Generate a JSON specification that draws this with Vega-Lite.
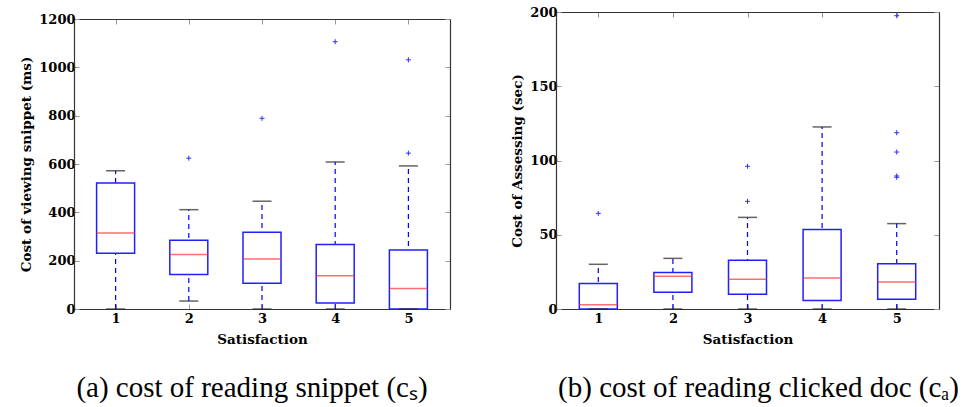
{
 "$schema": "https://vega.github.io/schema/vega-lite/v6.json",
 "padding": {"left": 19, "top": 6, "right": 0, "bottom": 0},
 "background": "white",
 "spacing": 59,
 "config": {
  "view": {"stroke": null},
  "font": "Liberation Serif",
  "axis": {"grid": false, "domain": true, "domainColor": "#333", "domainWidth": 1.2, "labelFont": "DejaVu Serif", "labelFontWeight": "bold", "labelFontSize": 13, "labelColor": "#000", "titleFont": "DejaVu Serif", "titleFontWeight": "bold", "titleFontSize": 13.5, "titleColor": "#000", "tickColor": "#999", "tickSize": -5, "labelPadding": 4, "titlePadding": 5},
  "axisX": {"labelPadding": 8, "titlePadding": 7},
  "title": {"font": "Liberation Serif", "fontSize": 29, "fontWeight": "normal", "color": "#000"}
 },
 "datasets": {
  "boxA": [
   {"s": 1, "lo": 0, "q1": 231, "med": 315, "q3": 521, "hi": 572},
   {"s": 2, "lo": 33, "q1": 143, "med": 226, "q3": 285, "hi": 411},
   {"s": 3, "lo": 0, "q1": 107, "med": 207, "q3": 318, "hi": 446},
   {"s": 4, "lo": 0, "q1": 25, "med": 138, "q3": 267, "hi": 608},
   {"s": 5, "lo": 0, "q1": 0, "med": 85, "q3": 244, "hi": 592}
  ],
  "outA": [
   {"s": 2, "v": 624},
   {"s": 3, "v": 789},
   {"s": 4, "v": 1106},
   {"s": 5, "v": 645},
   {"s": 5, "v": 1031}
  ],
  "boxB": [
   {"s": 1, "lo": 0, "q1": 0, "med": 2.9, "q3": 17.1, "hi": 30.1},
   {"s": 2, "lo": 0, "q1": 11.2, "med": 22, "q3": 24.5, "hi": 34.1},
   {"s": 3, "lo": 0, "q1": 9.9, "med": 20, "q3": 32.8, "hi": 61.7},
   {"s": 4, "lo": 0, "q1": 5.8, "med": 20.9, "q3": 53.6, "hi": 122.6},
   {"s": 5, "lo": 0, "q1": 6.5, "med": 18.2, "q3": 30.5, "hi": 57.5}
  ],
  "outB": [
   {"s": 1, "v": 64.4},
   {"s": 3, "v": 72.5},
   {"s": 3, "v": 96.1},
   {"s": 5, "v": 88.7},
   {"s": 5, "v": 89.6},
   {"s": 5, "v": 105.7},
   {"s": 5, "v": 118.7},
   {"s": 5, "v": 197.5}
  ]
 },
 "hconcat": [
  {
   "width": 376, "height": 297,
   "title": {"text": "(a) cost of reading snippet (cₛ)", "orient": "bottom", "offset": 28, "dx": -10, "font": "Liberation Serif", "fontSize": 29, "fontWeight": "normal"},
   "resolve": {"axis": {"x": "independent", "y": "independent"}},
   "layer": [
    {"data": {"name": "boxA"}, "mark": {"type": "rule", "color": "#0000ff", "strokeDash": [5, 4], "strokeWidth": 1.2},
     "encoding": {
      "x": {"field": "s", "type": "quantitative", "scale": {"domain": [0.5, 5.5]}, "axis": {"orient": "bottom", "values": [1, 2, 3, 4, 5], "format": "d", "title": "Satisfaction"}},
      "y": {"field": "lo", "type": "quantitative", "scale": {"domain": [0, 1200], "range": [297, 7]}, "axis": {"orient": "left", "values": [0, 200, 400, 600, 800, 1000, 1200], "format": "d", "title": "Cost of viewing snippet (ms)"}}, "y2": {"field": "hi"}}},
    {"data": {"name": "boxA"}, "mark": {"type": "bar", "fill": "white", "stroke": "#2020ff", "strokeWidth": 1.5, "size": 38},
     "encoding": {"x": {"field": "s", "type": "quantitative", "scale": {"domain": [0.5, 5.5]}, "axis": null}, "y": {"field": "q1", "type": "quantitative", "scale": {"domain": [0, 1200], "range": [297, 7]}, "axis": null}, "y2": {"field": "q3"}}},
    {"data": {"name": "boxA"}, "mark": {"type": "tick", "orient": "horizontal", "color": "#ff3030", "size": 38, "thickness": 1.5},
     "encoding": {"x": {"field": "s", "type": "quantitative", "scale": {"domain": [0.5, 5.5]}, "axis": null}, "y": {"field": "med", "type": "quantitative", "scale": {"domain": [0, 1200], "range": [297, 7]}, "axis": null}}},
    {"data": {"name": "boxA"}, "mark": {"type": "tick", "orient": "horizontal", "color": "#222", "size": 19, "thickness": 1.5},
     "encoding": {"x": {"field": "s", "type": "quantitative", "scale": {"domain": [0.5, 5.5]}, "axis": null}, "y": {"field": "hi", "type": "quantitative", "scale": {"domain": [0, 1200], "range": [297, 7]}, "axis": null}}},
    {"data": {"name": "boxA"}, "mark": {"type": "tick", "orient": "horizontal", "color": "#222", "size": 19, "thickness": 1.5},
     "encoding": {"x": {"field": "s", "type": "quantitative", "scale": {"domain": [0.5, 5.5]}, "axis": null}, "y": {"field": "lo", "type": "quantitative", "scale": {"domain": [0, 1200], "range": [297, 7]}, "axis": null}}},
    {"data": {"name": "outA"}, "mark": {"type": "point", "shape": "M-1,0H1M0,-1V1", "filled": false, "stroke": "#3030ff", "strokeWidth": 1, "size": 25, "opacity": 1},
     "encoding": {
      "x": {"field": "s", "type": "quantitative", "scale": {"domain": [0.5, 5.5]}, "axis": {"orient": "top", "values": [1, 2, 3, 4, 5], "labels": false, "title": null, "offset": -7}},
      "y": {"field": "v", "type": "quantitative", "scale": {"domain": [0, 1200], "range": [297, 7]}, "axis": {"orient": "right", "values": [0, 200, 400, 600, 800, 1000, 1200], "labels": false, "title": null}}}}
   ]
  },
  {
   "width": 383, "height": 297,
   "title": {"text": "(b) cost of reading clicked doc (cₐ)", "orient": "bottom", "offset": 28, "dx": 11, "font": "Liberation Serif", "fontSize": 29, "fontWeight": "normal"},
   "resolve": {"axis": {"x": "independent", "y": "independent"}},
   "layer": [
    {"data": {"name": "boxB"}, "mark": {"type": "rule", "color": "#0000ff", "strokeDash": [5, 4], "strokeWidth": 1.2},
     "encoding": {
      "x": {"field": "s", "type": "quantitative", "scale": {"domain": [0.5, 5.5]}, "axis": {"orient": "bottom", "values": [1, 2, 3, 4, 5], "format": "d", "title": "Satisfaction"}},
      "y": {"field": "lo", "type": "quantitative", "scale": {"domain": [0, 200]}, "axis": {"orient": "left", "values": [0, 50, 100, 150, 200], "format": "d", "title": "Cost of Assessing (sec)"}}, "y2": {"field": "hi"}}},
    {"data": {"name": "boxB"}, "mark": {"type": "bar", "fill": "white", "stroke": "#2020ff", "strokeWidth": 1.5, "size": 38},
     "encoding": {"x": {"field": "s", "type": "quantitative", "scale": {"domain": [0.5, 5.5]}, "axis": null}, "y": {"field": "q1", "type": "quantitative", "scale": {"domain": [0, 200]}, "axis": null}, "y2": {"field": "q3"}}},
    {"data": {"name": "boxB"}, "mark": {"type": "tick", "orient": "horizontal", "color": "#ff3030", "size": 38, "thickness": 1.5},
     "encoding": {"x": {"field": "s", "type": "quantitative", "scale": {"domain": [0.5, 5.5]}, "axis": null}, "y": {"field": "med", "type": "quantitative", "scale": {"domain": [0, 200]}, "axis": null}}},
    {"data": {"name": "boxB"}, "mark": {"type": "tick", "orient": "horizontal", "color": "#222", "size": 19, "thickness": 1.5},
     "encoding": {"x": {"field": "s", "type": "quantitative", "scale": {"domain": [0.5, 5.5]}, "axis": null}, "y": {"field": "hi", "type": "quantitative", "scale": {"domain": [0, 200]}, "axis": null}}},
    {"data": {"name": "boxB"}, "mark": {"type": "tick", "orient": "horizontal", "color": "#222", "size": 19, "thickness": 1.5},
     "encoding": {"x": {"field": "s", "type": "quantitative", "scale": {"domain": [0.5, 5.5]}, "axis": null}, "y": {"field": "lo", "type": "quantitative", "scale": {"domain": [0, 200]}, "axis": null}}},
    {"data": {"name": "outB"}, "mark": {"type": "point", "shape": "M-1,0H1M0,-1V1", "filled": false, "stroke": "#3030ff", "strokeWidth": 1, "size": 25, "opacity": 1},
     "encoding": {
      "x": {"field": "s", "type": "quantitative", "scale": {"domain": [0.5, 5.5]}, "axis": {"orient": "top", "values": [1, 2, 3, 4, 5], "labels": false, "title": null}},
      "y": {"field": "v", "type": "quantitative", "scale": {"domain": [0, 200]}, "axis": {"orient": "right", "values": [0, 50, 100, 150, 200], "labels": false, "title": null}}}}
   ]
  }
 ]
}
